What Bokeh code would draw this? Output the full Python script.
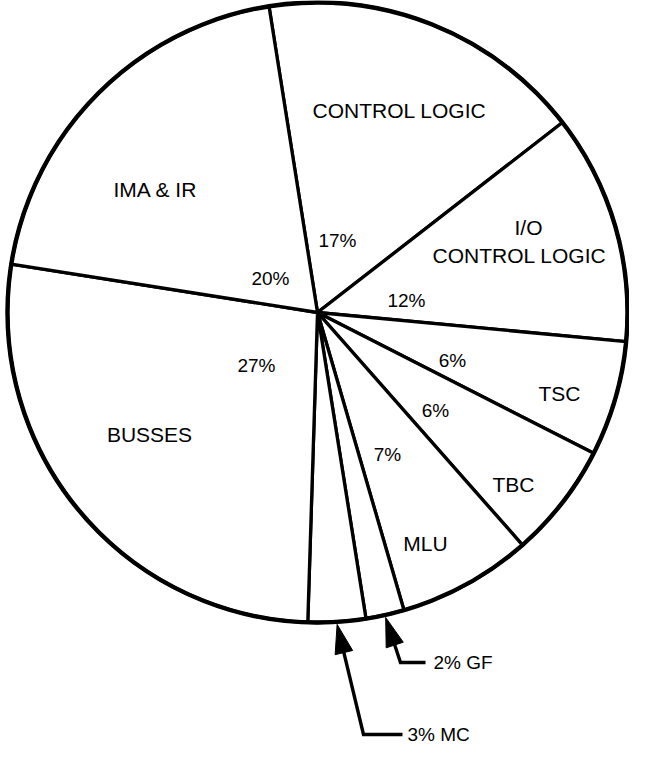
import numpy as np
from bokeh.plotting import figure
from bokeh.models import Range1d
from bokeh.core.properties import value
from bokeh.embed import file_html
from bokeh.resources import INLINE

# ---------------- data (clockwise from the top boundary) ----------------
slice_names = ["CONTROL LOGIC", "I/O CONTROL LOGIC", "TSC", "TBC", "MLU",
               "GF", "MC", "BUSSES", "IMA & IR"]
slice_percent = [17, 12, 6, 6, 7, 2, 3, 27, 20]
pct_labels = [f"{v}%" for v in slice_percent]

# ---------------- layout (image pixel coordinates, y down) ----------------
IMG_H = 763
FIG_W, FIG_H = 629, 747
CX, CY, R = 325, 320, 310          # pie centre / radius
START_DEG = 99                     # angle of first boundary

FONT = value("Liberation Sans")

def Y(py):
    return IMG_H - py

p = figure(width=FIG_W, height=FIG_H,
           x_range=Range1d(8, 8 + FIG_W), y_range=Range1d(IMG_H - 8 - FIG_H, IMG_H - 8),
           output_backend="svg", toolbar_location=None,
           x_axis_location=None, y_axis_location=None, min_border=0)
p.grid.visible = False
p.outline_line_color = None
p.background_fill_color = "white"
p.border_fill_color = "white"

frac = np.array(slice_percent, dtype=float) / 100.0
cum = np.concatenate([[0.0], np.cumsum(frac)])
hi = np.radians(START_DEG - 360.0 * cum[:-1])
lo = np.radians(START_DEG - 360.0 * cum[1:])

p.wedge(x=CX, y=Y(CY), radius=R, start_angle=lo, end_angle=hi,
        direction="anticlock", fill_color="white", line_color="black",
        line_width=3.3, line_join="miter")
p.circle(x=CX, y=Y(CY), radius=R, fill_color=None, line_color="black", line_width=4.4)

# ---------------- slice name labels ----------------
name_text = ["CONTROL LOGIC", "I/O", "CONTROL LOGIC", "TSC", "TBC", "MLU", "BUSSES", "IMA & IR"]
name_x = [407, 536, 527, 567, 521, 433, 157, 163]
name_y = [118, 235, 263, 401, 492, 551, 442, 197]
p.text(x=name_x, y=[Y(v) for v in name_y], text=name_text, text_align="center",
       text_baseline="middle", text_font=FONT, text_font_size="21px", text_color="black")

# ---------------- percent labels (inner slices) ----------------
inner_idx = [0, 1, 2, 3, 4, 7, 8]
pct_x = [345, 414, 460, 443, 395, 264, 278]
pct_y = [248, 308, 368, 418, 462, 373, 286]
p.text(x=pct_x, y=[Y(v) for v in pct_y], text=[pct_labels[i] for i in inner_idx],
       text_align="center", text_baseline="middle", text_font=FONT,
       text_font_size="19px", text_color="black")

# ---------------- callout arrows for the thin slices ----------------
callouts = [(5, (408, 670), (433, 670), (441, 670)),
            (6, (371, 742), (410, 742), (415, 742))]
for idx, corner, end, tpos in callouts:
    mid = 0.5 * (lo[idx] + hi[idx])
    tip = np.array([CX + (R + 2.5) * np.cos(mid), Y(CY) + (R + 2.5) * np.sin(mid)])
    c = np.array([corner[0], Y(corner[1])], dtype=float)
    u = (tip - c) / np.linalg.norm(tip - c)
    n = np.array([-u[1], u[0]])
    base = tip - 29 * u
    tri = [tip, base + 9 * n, base - 9 * n]
    p.patch(x=[t[0] for t in tri], y=[t[1] for t in tri], fill_color="black",
            line_color="black", line_width=1)
    p.line(x=[base[0], c[0], end[0]], y=[base[1], c[1], Y(end[1])],
           line_color="black", line_width=3.4, line_join="miter")
    p.text(x=[tpos[0]], y=[Y(tpos[1])],
           text=[f"{slice_percent[idx]}% {slice_names[idx]}"],
           text_align="left", text_baseline="middle", text_font=FONT,
           text_font_size="19px", text_color="black")

open("out.html", "w").write(file_html(p, INLINE))
